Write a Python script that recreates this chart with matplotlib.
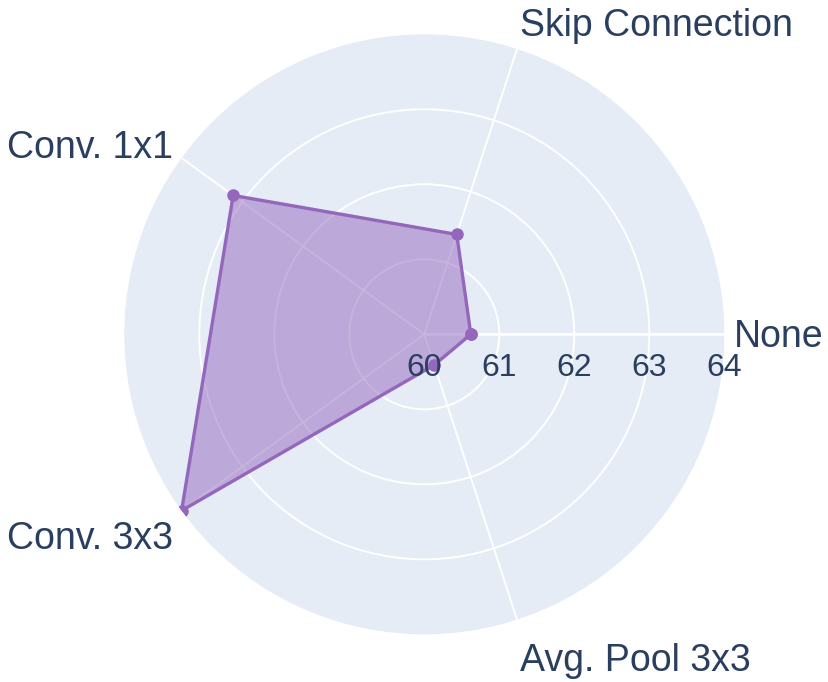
import matplotlib.pyplot as plt
import numpy as np

plt.rcParams['font.family'] = ['Liberation Sans', 'DejaVu Sans']

# data
categories = ["None", "Skip Connection", "Conv. 1x1", "Conv. 3x3", "Avg. Pool 3x3"]
values = [60.62, 61.40, 63.15, 64.00, 60.43]
r_ticks = [60, 61, 62, 63, 64]

bg = '#E5ECF6'
txt = '#2a3f5f'
purple = '#9467bd'

W, H = 829, 682
fig = plt.figure(figsize=(W / 100, H / 100), dpi=100)
cx, cy, R = 424.3, 334.3, 300
ax = fig.add_axes([(cx - R) / W, (H - cy - R) / H, 2 * R / W, 2 * R / H], projection='polar')
ax.set_facecolor(bg)
ax.spines['polar'].set_visible(False)
ax.set_ylim(r_ticks[0], r_ticks[-1])

angles = np.deg2rad(np.arange(len(categories)) * 360 / len(categories))

# grid
ax.set_rgrids(r_ticks[1:-1], labels=[''] * (len(r_ticks) - 2))
ax.set_thetagrids(np.rad2deg(angles), labels=[''] * len(categories))
ax.grid(True, color='white', linewidth=1.4)
ax.tick_params(length=0)
ax.plot([0, 0], [r_ticks[0], r_ticks[-1]], color='white', linewidth=1.8, zorder=1)

# trace
th = np.append(angles, angles[0])
vv = np.append(values, values[0])
ax.fill(th, vv, color=purple, alpha=0.5, linewidth=0, zorder=2)
ax.plot(th, vv, color=purple, linewidth=2.4, marker='o', markersize=8, zorder=3)

# radial tick labels
for r in r_ticks:
    ax.annotate(str(r), xy=(0, r), xytext=(0, -42), textcoords='offset pixels',
                ha='center', va='baseline', fontsize=23, color=txt, zorder=5)

# angular labels
offsets = [(10, -13, 'left'), (3, 13, 'left'), (-9, 0, 'right'),
           (-9, -38, 'right'), (3, -51, 'left')]
for a, lab, (dx, dy, ha) in zip(angles, categories, offsets):
    ax.annotate(lab, xy=(a, r_ticks[-1]), xytext=(dx, dy), textcoords='offset pixels',
                ha=ha, va='baseline', fontsize=27, color=txt, annotation_clip=False)

fig.savefig('out.png', dpi=100, facecolor='white')
